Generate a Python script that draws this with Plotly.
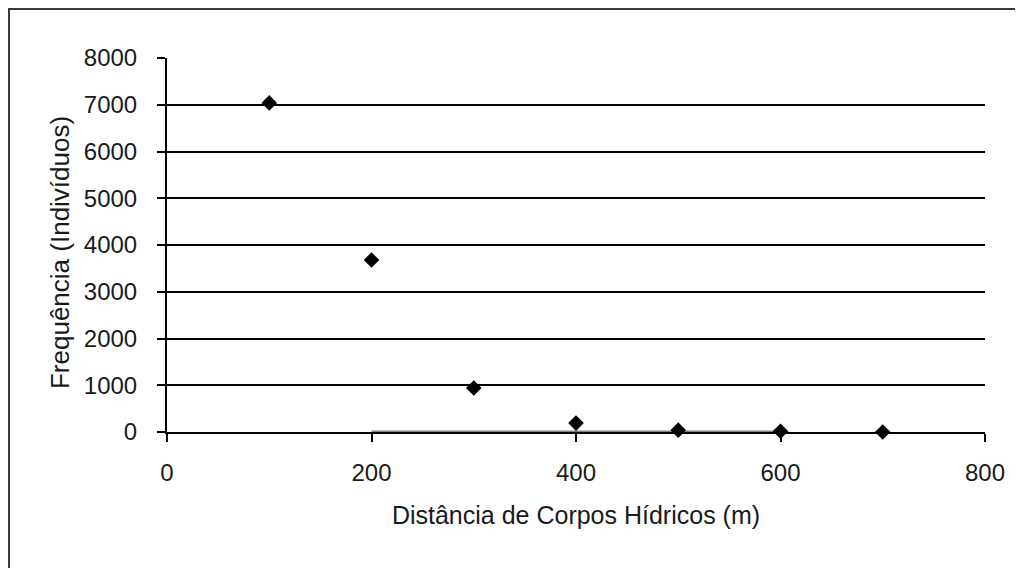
import plotly.graph_objects as go

# distance to water bodies (m) and counted individuals
distancia = [100, 200, 300, 400, 500, 600, 700]
frequencia = [7040, 3680, 940, 190, 40, 15, 0]

# grey segment lying on the x axis in the original
linha_x = [200, 600]
linha_y = [0, 0]

x_ticks = [0, 200, 400, 600, 800]
y_ticks = [0, 1000, 2000, 3000, 4000, 5000, 6000, 7000, 8000]

familia = 'Liberation Sans, Arial, sans-serif'
cor_texto = '#1a1a1a'

fig = go.Figure()
fig.add_trace(go.Scatter(x=linha_x, y=linha_y, mode='lines',
                         line=dict(color='#808080', width=3),
                         hoverinfo='skip', cliponaxis=False))
fig.add_trace(go.Scatter(x=distancia, y=frequencia, mode='markers',
                         marker=dict(symbol='diamond', size=12, color='black'),
                         cliponaxis=False))

# the page body adds an 8px offset, so the figure is 8px smaller
fig.update_layout(
    width=1015, height=560,
    margin=dict(l=159, r=38, t=50, b=136),
    paper_bgcolor='white', plot_bgcolor='white',
    showlegend=False,
    font=dict(family=familia, size=24, color=cor_texto),
    xaxis=dict(
        title=dict(text='Distância de Corpos Hídricos (m)',
                   font=dict(family=familia, size=25, color=cor_texto), standoff=22),
        range=[0, 800], tickvals=x_ticks,
        showline=True, linecolor='black', linewidth=2,
        ticks='outside', ticklen=8, tickwidth=2, tickcolor='black',
        showgrid=False, zeroline=False, layer='below traces',
        ticklabelstandoff=10,
    ),
    yaxis=dict(
        range=[0, 8000], tickvals=y_ticks,
        showline=True, linecolor='black', linewidth=2,
        ticks='outside', ticklen=8, tickwidth=2, tickcolor='black',
        showgrid=True, gridcolor='black', gridwidth=1.5,
        zeroline=False, layer='below traces',
        ticklabelstandoff=15,
    ),
    annotations=[dict(text='Frequência (Indivíduos)', textangle=-90,
                      xref='paper', yref='paper', x=-0.1308, y=0.4786,
                      xanchor='center', yanchor='middle', showarrow=False,
                      font=dict(family=familia, size=26, color=cor_texto))],
    shapes=[dict(type='rect', xref='paper', yref='paper',
                 x0=-0.1932, x1=1.2, y0=-0.6, y1=1.131,
                 line=dict(color='#3a3a3a', width=2))],
)

fig.write_html("out.html")
